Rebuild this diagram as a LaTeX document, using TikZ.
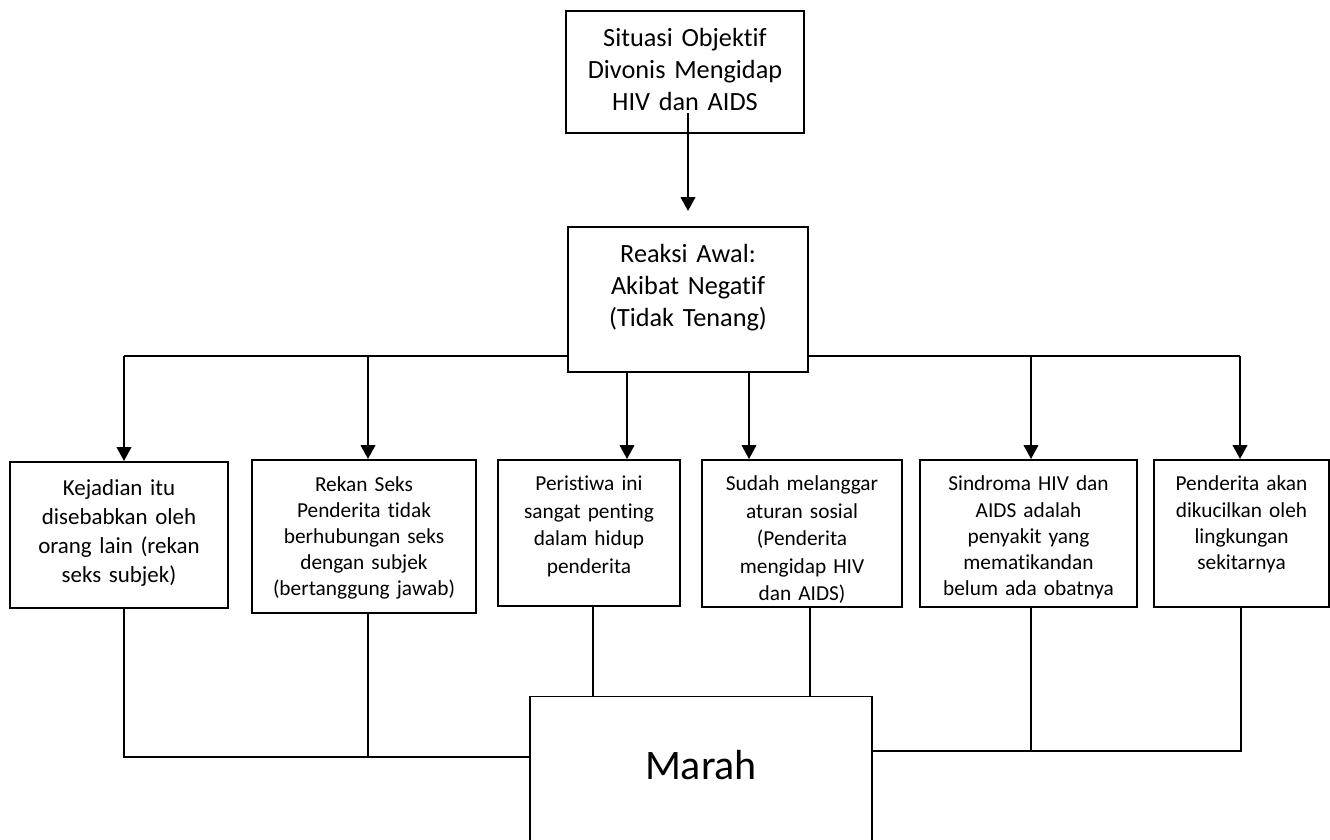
\documentclass[tikz,border=0pt]{standalone}
\usepackage{fontspec}
\setmainfont{Carlito}[Ligatures=NoCommon]
\usetikzlibrary{arrows.meta}

\begin{document}
\begin{tikzpicture}[x=0.75pt,y=-0.75pt]
    \tikzstyle{box}=[draw, rectangle, line width=1.2pt, inner sep=0pt, align=center, anchor=north]
    \tikzstyle{head box}=[box, font=\fontsize{19.7}{24}\selectfont, text height=27pt]
    \tikzstyle{cause box}=[box, font=\fontsize{16}{20.6}\selectfont, text height=23.25pt, text depth=87pt]
    \tikzstyle{arrow}=[-{Triangle[width=11pt,length=10.5pt]}, line width=1.5pt]
    \tikzstyle{link}=[line width=1pt]
    \useasboundingbox (0,0) rectangle (1330,839);

    % Draw the two upper boxes
    \node[head box, text width=178.5pt, text depth=64.5pt] (situasi) at (685,10)
        {Situasi Objektif\\Divonis Mengidap\\HIV dan AIDS};
    \node[head box, text width=180pt, text depth=81.75pt] (reaksi) at (688,226)
        {Reaksi Awal:\\Akibat Negatif\\(Tidak Tenang)};

    % Draw the row of causes
    \node[cause box, text width=163.5pt, font=\fontsize{17.2}{21.75}\selectfont, text height=25.5pt, text depth=84pt] (kejadian) at (119,461)
        {Kejadian itu\\disebabkan oleh\\orang lain (rekan\\seks subjek)};
    \node[cause box, text width=168pt, font=\fontsize{16}{19.5}\selectfont, text height=24pt, text depth=90.75pt] (rekan) at (364,459)
        {Rekan Seks\\Penderita tidak\\berhubungan seks\\dengan subjek\\(bertanggung jawab)};
    \node[cause box, text width=136.5pt, text depth=86.25pt] (peristiwa) at (589,459)
        {Peristiwa ini\\sangat penting\\dalam hidup\\penderita};
    \node[cause box, text width=150pt] (sudah) at (802,459)
        {Sudah melanggar\\aturan sosial\\(Penderita\\mengidap HIV\\dan AIDS)};
    \node[cause box, text width=162.75pt, font=\fontsize{16}{19.7}\selectfont] (sindroma) at (1028.5,459)
        {Sindroma HIV dan\\AIDS adalah\\penyakit yang\\mematikandan\\belum ada obatnya};
    \node[cause box, text width=131.25pt, font=\fontsize{16}{19.7}\selectfont] (dikucilkan) at (1241.5,459)
        {Penderita akan\\dikucilkan oleh\\lingkungan\\sekitarnya};

    % Draw the result box
    \node[box, line width=0.8pt, text width=256.5pt, font=\fontsize{31.5}{37}\selectfont, text height=62.25pt, text depth=90.75pt] (marah) at (701,696)
        {Marah};

    % Points on the branching line
    \coordinate (s1) at (688,113);
    \coordinate (t1) at (124,356);
    \coordinate (t2) at (368,356);
    \coordinate (t3) at (627,356);
    \coordinate (t4) at (749,356);
    \coordinate (t5) at (1031,356);
    \coordinate (t6) at (1240,356);
    \coordinate (j1) at (124,757);
    \coordinate (j6) at (1241,751);
    \coordinate (m3) at (593,696);
    \coordinate (m4) at (810,696);

    \draw[arrow, shorten >=11.25pt] (s1) -- (s1 |- reaksi.north);
    \draw[line width=1.2pt] (t1) -- (t1 -| reaksi.west);
    \draw[line width=1.2pt] (t6) -- (t6 -| reaksi.east);
    \draw[arrow] (t1) -- (t1 |- kejadian.north);
    \draw[arrow] (t2) -- (t2 |- rekan.north);
    \draw[arrow] (t3 |- reaksi.south) -- (t3 |- peristiwa.north);
    \draw[arrow] (t4 |- reaksi.south) -- (t4 |- sudah.north);
    \draw[arrow] (t5) -- (t5 |- sindroma.north);
    \draw[arrow] (t6) -- (t6 |- dikucilkan.north);

    % Join the causes to the result
    \draw[link] (t1 |- kejadian.south) -- (j1) -- (j1 -| marah.west);
    \draw[link] (t2 |- rekan.south) -- (t2 |- j1);
    \draw[link] (m3 |- peristiwa.south) -- (m3);
    \draw[link] (m4 |- sudah.south) -- (m4);
    \draw[link] (j6 |- dikucilkan.south) -- (j6) -- (j6 -| marah.east);
    \draw[link] (t5 |- sindroma.south) -- (t5 |- j6);
\end{tikzpicture}
\end{document}
